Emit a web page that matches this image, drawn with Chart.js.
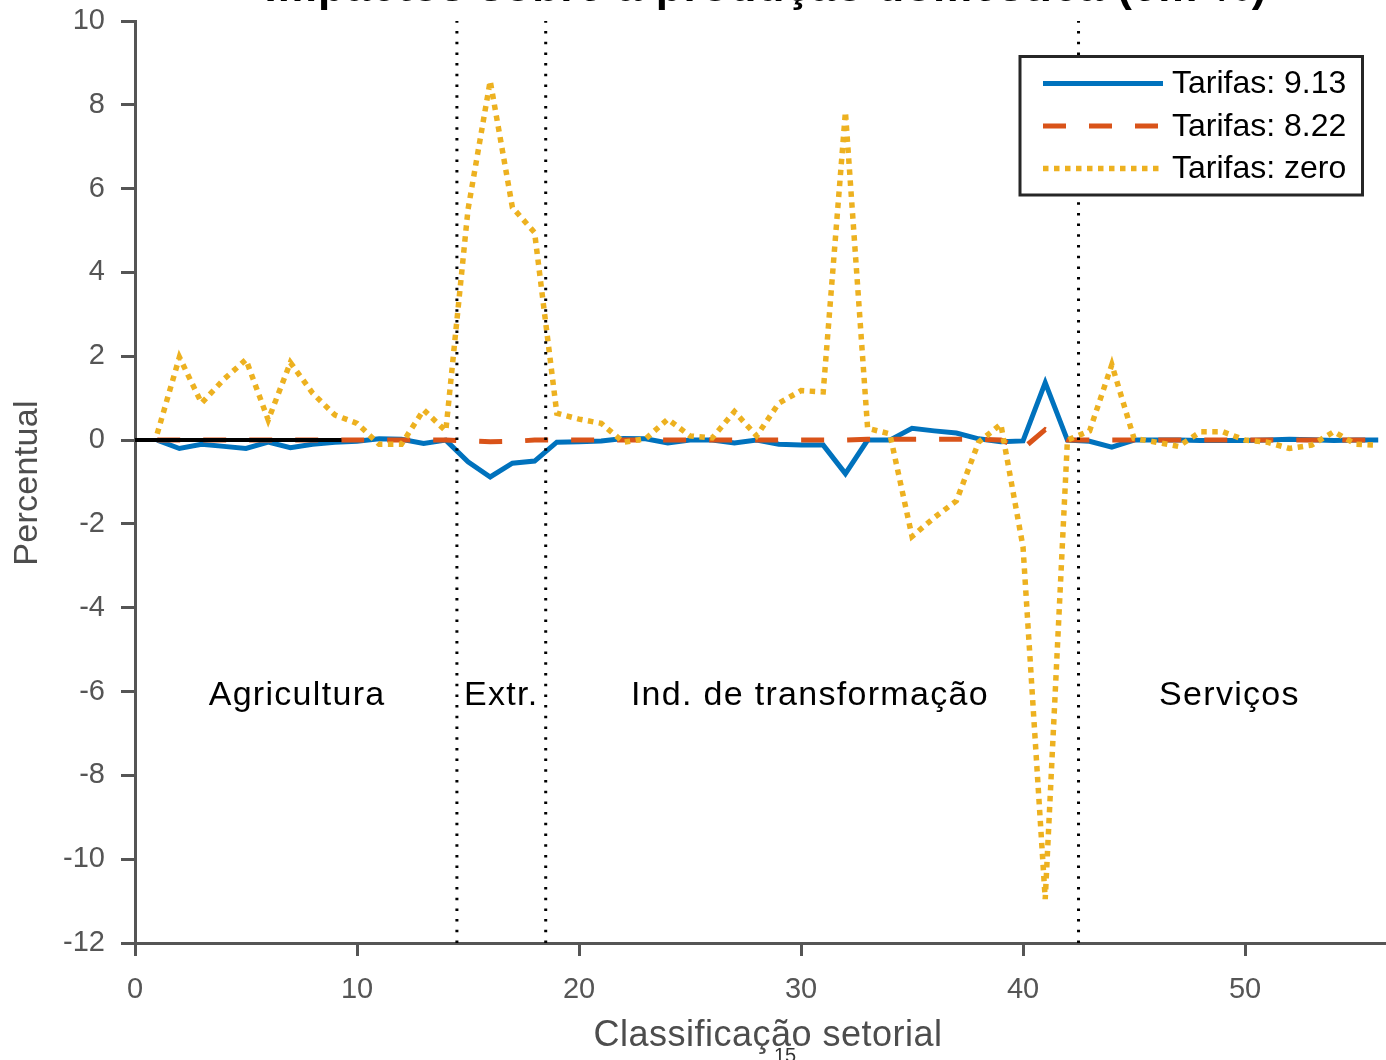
<!DOCTYPE html>
<html>
<head>
<meta charset="utf-8">
<script src="https://cdn.jsdelivr.net/npm/chart.js@4.4.1/dist/chart.umd.min.js"></script>
<style>
  body { margin: 0; background: #fff; }
  #wrap { width: 1386px; height: 1060px; }
</style>
</head>
<body>
<div id="wrap"><canvas id="chart" width="1386" height="1060"></canvas></div>
<script>
// sectors 1..56, grouped in four blocks
const sectors = [1, 2, 3, 4, 5, 6, 7, 8, 9, 10, 11, 12, 13, 14, 15, 16, 17, 18, 19, 20,
  21, 22, 23, 24, 25, 26, 27, 28, 29, 30, 31, 32, 33, 34, 35, 36, 37, 38, 39, 40,
  41, 42, 43, 44, 45, 46, 47, 48, 49, 50, 51, 52, 53, 54, 55, 56];

const tarifas913 = [0, -0.2, -0.1, -0.15, -0.2, -0.05, -0.18, -0.1, -0.05, -0.03,
  0.03, 0.02, -0.08, 0, -0.52, -0.88, -0.55, -0.5, -0.05, -0.04,
  -0.02, 0.04, 0.03, -0.07, 0.0, 0.0, -0.07, 0.0, -0.1, -0.12,
  -0.12, -0.8, 0, 0, 0.28, 0.22, 0.17, 0.03, -0.04, -0.02,
  1.37, 0, -0.03, -0.17, 0, 0, 0, -0.01, -0.01, -0.01,
  0.0, 0.02, 0.01, -0.01, 0.0, 0.0];

const tarifas822 = [0, 0, 0, 0, 0, 0, 0, 0, 0, 0,
  0, 0, 0, 0, -0.02, -0.04, -0.03, 0, 0, 0,
  0, 0, 0, 0, 0, 0, 0, 0, 0, 0,
  0, 0, 0.02, 0.02, 0.02, 0.02, 0.02, 0.02, 0, -0.2,
  0.25, 0, 0, 0, 0, 0, 0, 0, 0, 0,
  0, 0, 0, 0, 0, 0];

const tarifasZero = [0.15, 1.98, 0.88, 1.45, 1.92, 0.48, 1.85, 1.12, 0.6, 0.4,
  -0.1, -0.1, 0.72, 0.22, 5.5, 8.57, 5.55, 4.95, 0.64, 0.5,
  0.4, -0.05, 0.03, 0.5, 0.1, 0.05, 0.68, 0.1, 0.88, 1.18,
  1.15, 7.83, 0.28, 0.15, -2.3, -1.85, -1.45, -0.05, 0.38, -2.55,
  -10.95, 0.0, 0.22, 1.8, 0.04, -0.05, -0.15, 0.2, 0.2, 0.0,
  -0.05, -0.2, -0.12, 0.2, -0.1, -0.12];

const xTicks = [0, 10, 20, 30, 40, 50];
const yTicks = [-12, -10, -8, -6, -4, -2, 0, 2, 4, 6, 8, 10];

const sectorBounds = [14.5, 18.5, 42.5];
const sectorNames = ['Agricultura', 'Extr.', 'Ind. de transformação', 'Serviços'];
const sectorLabelX = [7.3, 16.5, 30.4, 49.3];
const sectorLabelY = -6;
const blackSegX = [0, 9.3];

const seriesNames = ['Tarifas: 9.13', 'Tarifas: 8.22', 'Tarifas: zero'];

const FONT = '"Liberation Sans", Arial, sans-serif';
const AXIS = '#555555';

const toPts = (vals) => vals.map((v, i) => ({ x: sectors[i], y: v }));

const datasets = [
  {
    label: seriesNames[0], data: toPts(tarifas913), order: 4,
    borderColor: '#0072BD', borderWidth: 5, borderJoinStyle: 'miter'
  },
  {
    label: seriesNames[1], data: toPts(tarifas822), order: 3,
    borderColor: '#D95319', borderWidth: 5, borderDash: [23, 23], borderCapStyle: 'butt'
  },
  {
    label: seriesNames[2], data: toPts(tarifasZero), order: 2,
    borderColor: '#EDB120', borderWidth: 5.5, borderDash: [5.5, 5.5], borderCapStyle: 'butt'
  },
  {
    label: 'zero', data: blackSegX.map(v => ({ x: v, y: 0 })), order: 1,
    borderColor: '#000', borderWidth: 4
  }
];
sectorBounds.forEach(b => {
  datasets.push({
    label: 'bound', order: 1,
    data: [{ x: b, y: yTicks[0] }, { x: b, y: yTicks[yTicks.length - 1] }],
    borderColor: '#000', borderWidth: 3, borderDash: [2.5, 8.2], borderCapStyle: 'butt'
  });
});

// text, legend and titles drawn on top
const overlay = {
  id: 'overlay',
  afterDraw(chart) {
    const { ctx, scales: { x, y } } = chart;
    ctx.save();

    // sector names
    ctx.fillStyle = '#000';
    ctx.font = '34px ' + FONT;
    ctx.letterSpacing = '1.3px';
    ctx.textAlign = 'center';
    ctx.textBaseline = 'alphabetic';
    sectorNames.forEach((name, i) => {
      ctx.fillText(name, x.getPixelForValue(sectorLabelX[i]), y.getPixelForValue(sectorLabelY) + 13);
    });

    // title, cut at the top of the picture
    ctx.font = 'bold 44px ' + FONT;
    ctx.letterSpacing = '1px';
    ctx.fillText('Impactos sobre a produção doméstica (em %)', 766, 1);

    // axis titles
    ctx.fillStyle = '#4d4d4d';
    ctx.font = '36px ' + FONT;
    ctx.letterSpacing = '0.5px';
    ctx.textBaseline = 'middle';
    ctx.fillText('Classificação setorial', 768, 1036);
    ctx.save();
    ctx.translate(28, 483);
    ctx.rotate(-Math.PI / 2);
    ctx.font = '34px ' + FONT;
    ctx.letterSpacing = '0.3px';
    ctx.fillText('Percentual', 0, 0);
    ctx.restore();

    // page number
    ctx.letterSpacing = '0px';
    ctx.fillStyle = '#333';
    ctx.font = '20px ' + FONT;
    ctx.textBaseline = 'alphabetic';
    ctx.fillText('15', 785, 1062);

    // legend
    const bx = 1020, by = 56.5, bw = 342.5, bh = 138.5;
    ctx.fillStyle = '#fff';
    ctx.fillRect(bx, by, bw, bh);
    ctx.strokeStyle = '#262626';
    ctx.lineWidth = 3;
    ctx.setLineDash([]);
    ctx.strokeRect(bx, by, bw, bh);
    const rows = [83.5, 126, 168.5];
    ctx.font = '32px ' + FONT;
    ctx.textAlign = 'left';
    ctx.textBaseline = 'middle';
    for (let i = 0; i < 3; i++) {
      const ds = chart.data.datasets[i];
      ctx.strokeStyle = ds.borderColor;
      ctx.lineWidth = ds.borderWidth;
      ctx.lineCap = 'butt';
      ctx.setLineDash(ds.borderDash || []);
      ctx.beginPath();
      ctx.moveTo(1043, rows[i]);
      ctx.lineTo(1163, rows[i]);
      ctx.stroke();
      ctx.fillStyle = '#000';
      ctx.fillText(ds.label, 1172, rows[i] + 1);
    }
    ctx.restore();
  }
};

new Chart(document.getElementById('chart'), {
  type: 'line',
  data: { datasets },
  options: {
    responsive: false,
    animation: false,
    events: [],
    layout: { padding: { top: 21, right: 0, left: 0, bottom: 0 } },
    elements: { point: { radius: 0 }, line: { tension: 0 } },
    plugins: { legend: { display: false }, tooltip: { enabled: false }, title: { display: false } },
    scales: {
      x: {
        type: 'linear', min: 0, max: 56.35,
        afterBuildTicks: s => { s.ticks = xTicks.map(v => ({ value: v })); },
        afterFit: s => { s.height = 117; s.paddingLeft = 0; s.paddingRight = 0; },
        grid: { drawOnChartArea: false, drawTicks: true, tickLength: 13, color: AXIS, lineWidth: 3 },
        border: { display: true, color: AXIS, width: 3 },
        ticks: { color: AXIS, font: { family: FONT, size: 29 }, padding: 17, maxRotation: 0 }
      },
      y: {
        type: 'linear', min: -12, max: 10,
        afterBuildTicks: s => { s.ticks = yTicks.map(v => ({ value: v })); },
        afterFit: s => { s.width = 135; s.paddingTop = 0; s.paddingBottom = 0; },
        grid: { drawOnChartArea: false, drawTicks: true, tickLength: 14, color: AXIS, lineWidth: 3 },
        border: { display: true, color: AXIS, width: 3 },
        ticks: { color: AXIS, font: { family: FONT, size: 29 }, padding: 16 }
      }
    }
  },
  plugins: [overlay]
});
</script>
</body>
</html>
